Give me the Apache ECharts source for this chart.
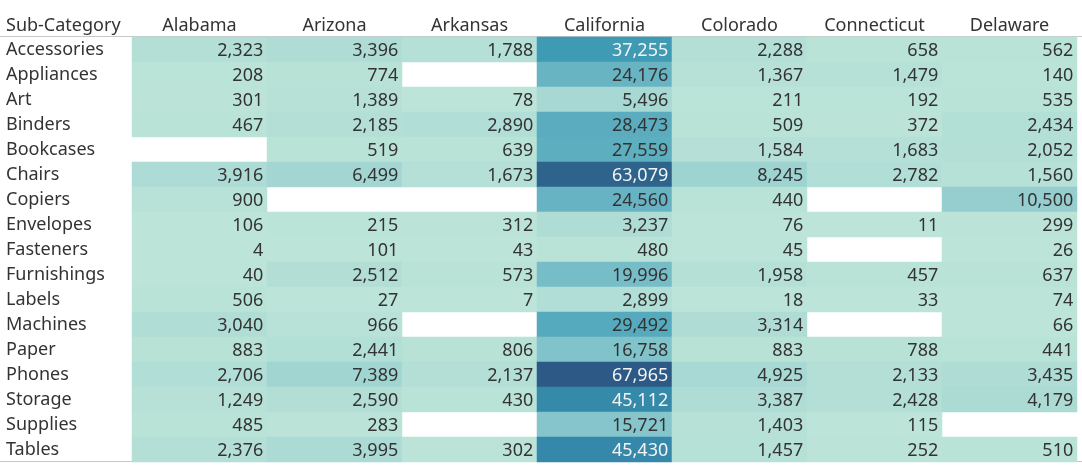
<!DOCTYPE html>
<html>
<head>
<meta charset="utf-8">
<script src="https://cdn.jsdelivr.net/npm/echarts@6/dist/echarts.min.js"></script>
<style>
  html, body { margin: 0; padding: 0; background: #fff; }
  #chart { width: 1082px; height: 465px; }
</style>
</head>
<body>
<div id="chart"></div>
<script>
const subCategories = ['Accessories','Appliances','Art','Binders','Bookcases','Chairs','Copiers','Envelopes','Fasteners','Furnishings','Labels','Machines','Paper','Phones','Storage','Supplies','Tables'];
const states = ['Alabama','Arizona','Arkansas','California','Colorado','Connecticut','Delaware'];

const alabama     = [2323, 208, 301, 467, null, 3916, 900, 106, 4, 40, 506, 3040, 883, 2706, 1249, 485, 2376];
const arizona     = [3396, 774, 1389, 2185, 519, 6499, null, 215, 101, 2512, 27, 966, 2441, 7389, 2590, 283, 3995];
const arkansas    = [1788, null, 78, 2890, 639, 1673, null, 312, 43, 573, 7, null, 806, 2137, 430, null, 302];
const california  = [37255, 24176, 5496, 28473, 27559, 63079, 24560, 3237, 480, 19996, 2899, 29492, 16758, 67965, 45112, 15721, 45430];
const colorado    = [2288, 1367, 211, 509, 1584, 8245, 440, 76, 45, 1958, 18, 3314, 883, 4925, 3387, 1403, 1457];
const connecticut = [658, 1479, 192, 372, 1683, 2782, null, 11, null, 457, 33, null, 788, 2133, 2428, 115, 252];
const delaware    = [562, 140, 535, 2434, 2052, 1560, 10500, 299, 26, 637, 74, 66, 441, 3435, 4179, null, 510];

const columns = [alabama, arizona, arkansas, california, colorado, connecticut, delaware];

const palette = ['#bce4d8','#aedcd5','#a1d5d2','#95cecf','#89c8cc','#7ec1ca','#72bac6','#66b2c2','#59acbe','#4ba5ba','#419eb6','#3b96b2','#358ead','#3586a7','#347ea1','#32779b','#316f96','#2f6790','#2d608a','#2c5985'];

const allVals = columns.flat().filter(v => v != null);
const vMin = Math.min(...allVals);
const vMax = Math.max(...allVals);

const data = [];
columns.forEach((col, xi) => {
  col.forEach((v, yi) => {
    if (v == null) return;
    data.push({
      value: [xi, yi, v],
      label: { color: v > 35000 ? '#f4f4f4' : '#333333' }
    });
  });
});

const font = '"Noto Sans", "Open Sans", sans-serif';
const chart = echarts.init(document.getElementById('chart'), null, { renderer: 'canvas' });
chart.setOption({
  animation: false,
  backgroundColor: '#ffffff',
  grid: { left: 132, right: 5, top: 37, bottom: 3 },
  xAxis: {
    type: 'category',
    position: 'top',
    data: states,
    axisLine: { show: false },
    axisTick: { show: false },
    splitLine: { show: false },
    axisLabel: { fontSize: 18, color: '#333333', fontFamily: font, margin: 2, interval: 0 }
  },
  yAxis: {
    type: 'category',
    inverse: true,
    data: subCategories,
    axisLine: { show: false },
    axisTick: { show: false },
    splitLine: { show: false },
    axisLabel: { fontSize: 18, color: '#333333', fontFamily: font, align: 'left', margin: 126, interval: 0, padding: [2, 0, 0, 0] }
  },
  visualMap: {
    show: false,
    type: 'continuous',
    min: vMin,
    max: vMax,
    dimension: 2,
    inRange: { color: palette }
  },
  graphic: [
    { type: 'text', left: 6, top: 17, style: { text: 'Sub-Category', font: '18px ' + font, fill: '#333333' } },
    { type: 'line', shape: { x1: 0, y1: 36.5, x2: 1082, y2: 36.5 }, style: { stroke: '#c8c8c8', lineWidth: 1 } },
    { type: 'line', shape: { x1: 0, y1: 461.5, x2: 1082, y2: 461.5 }, style: { stroke: '#c8c8c8', lineWidth: 1 } }
  ],
  series: [{
    type: 'heatmap',
    data: data,
    itemStyle: { borderWidth: 0 },
    label: {
      show: true,
      position: 'insideRight',
      distance: 4,
      offset: [0, 1],
      fontSize: 18,
      fontFamily: font,
      formatter: p => p.value[2].toLocaleString('en-US')
    },
    emphasis: { disabled: true }
  }]
});
</script>
</body>
</html>
